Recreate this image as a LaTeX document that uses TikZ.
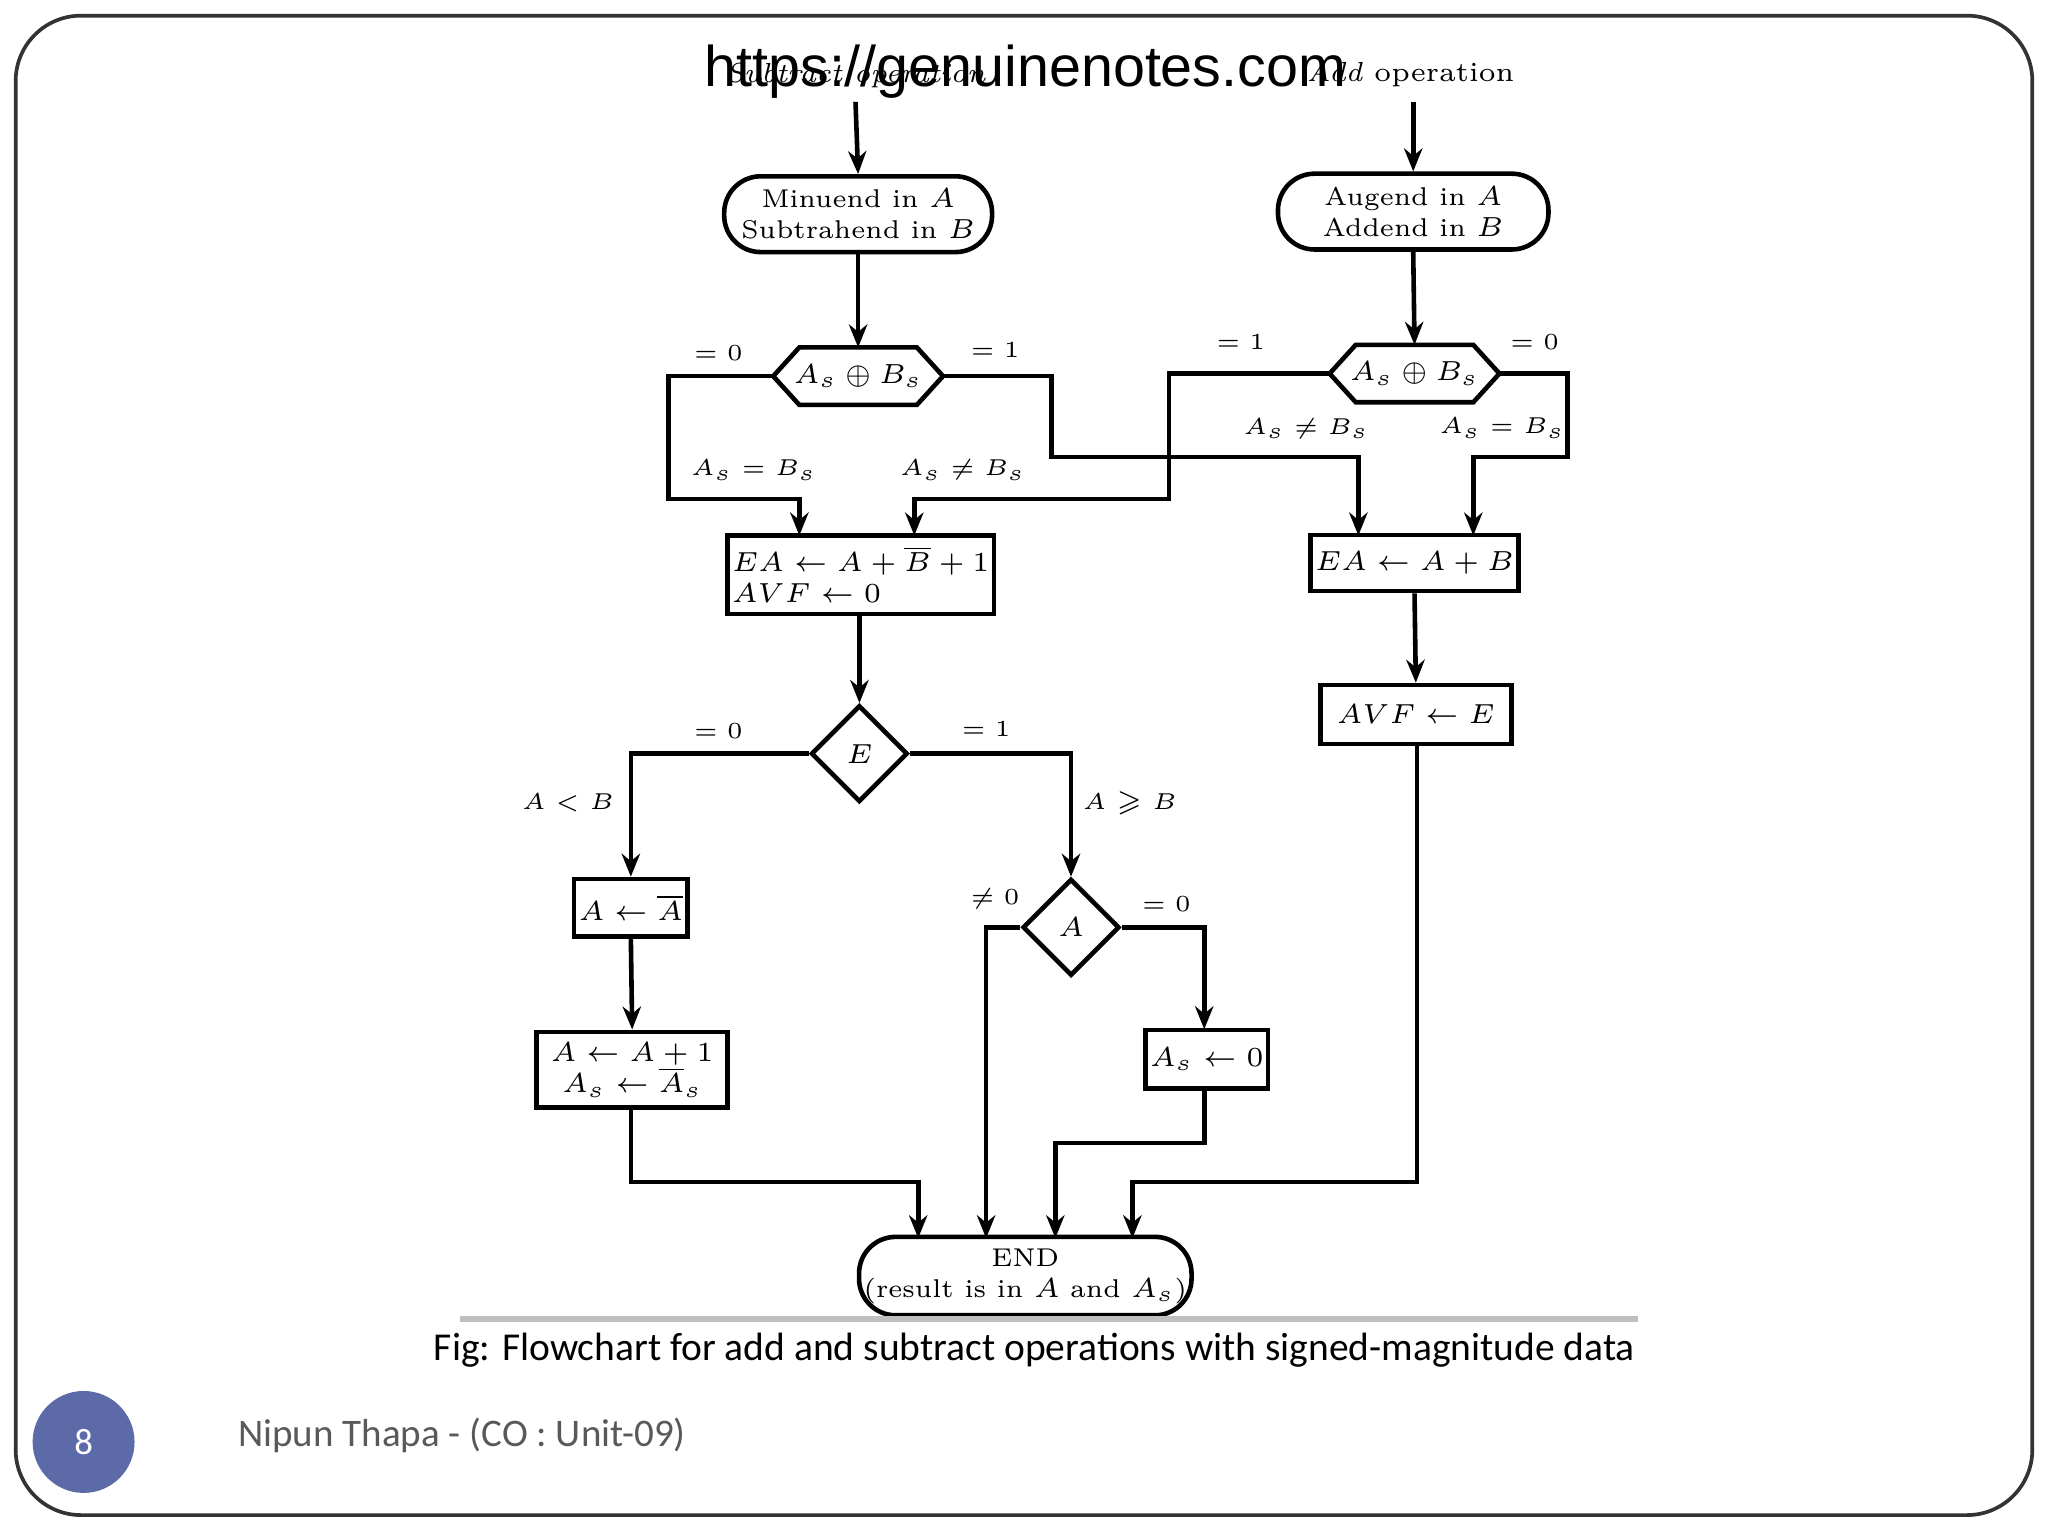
\documentclass[tikz,border=0pt]{standalone}
\usepackage{fontspec}
\usepackage{amssymb}
\newfontfamily\capfont{Carlito}
\newfontfamily\wmfont{Liberation Sans}
\usetikzlibrary{shapes.geometric,arrows.meta}
\begin{document}
\begin{tikzpicture}[x=0.01cm,y=-0.01cm,
  ln/.style={line width=1pt},
  ar/.style={line width=1pt,-{Stealth[length=5pt,width=4pt]}},
  box/.style={draw,line width=1pt,inner sep=1pt,font=\fontsize{5.6}{6.8}\selectfont,align=left},
  term/.style={draw,line width=1pt,rounded corners=0.28cm,inner sep=1pt,font=\fontsize{5.6}{6.8}\selectfont,align=center},
  dia/.style={draw,diamond,line width=1pt,minimum width=0.74cm,minimum height=0.74cm,inner sep=0pt,font=\fontsize{5.6}{7}\selectfont},
  lab/.style={font=\fontsize{5.4}{6}\selectfont,inner sep=1pt}]
\useasboundingbox (0,0) rectangle (1568,1176);
\draw[line width=0.8pt,rounded corners=0.5cm,black!80] (12,12) rectangle (1556,1160);
% headers
\node[lab,font=\itshape\fontsize{6}{7}\selectfont] (sub) at (655,58) {Subtract operation};
\node[lab,font=\fontsize{6}{7}\selectfont] (add) at (1080,57) {\textit{Add} operation};
\node[font=\wmfont\fontsize{12.5}{15}\selectfont] (wm) at (785,55) {https://genuinenotes.com};
% terminals
\node[term,minimum width=2.05cm,minimum height=0.58cm] (min) at (657,164) {Minuend in $A$\\Subtrahend in $B$};
\node[term,minimum width=2.07cm,minimum height=0.58cm] (aug) at (1082,162) {Augend in $A$\\Addend in $B$};
\coordinate (s0) at (655,78); \coordinate (a0) at (1082,78);
\draw[ar] (s0) -- (min.north);
\draw[ar] (a0) -- (aug.north);
% hexagons
\node[font=\fontsize{5.6}{7}\selectfont] (h1) at (657,288) {$A_s\oplus B_s$};
\node[font=\fontsize{5.6}{7}\selectfont] (h2) at (1083,286) {$A_s\oplus B_s$};
\draw[line width=1pt] (592,288)--(612,266)--(702,266)--(722,288)--(702,310)--(612,310)--cycle;
\draw[line width=1pt] (1018,286)--(1038,264)--(1128,264)--(1148,286)--(1128,308)--(1038,308)--cycle;
\coordinate (h1t) at (657,266); \coordinate (h2t) at (1083,264);
\draw[ar] (min.south) -- (h1t);
\draw[ar] (aug.south) -- (h2t);
% boxes
\node[box,minimum width=1.78cm,minimum height=0.6cm] (sb) at (659,440) {$EA\leftarrow A+\overline{B}+1$\\$AVF\leftarrow 0$};
\node[box,minimum width=1.45cm,minimum height=0.43cm] (ab) at (1083,431) {$EA\leftarrow A+B$};
\node[box,minimum width=1.46cm,minimum height=0.45cm] (av) at (1084,547) {$AVF\leftarrow E$};
\coordinate (l1) at (592,288); \coordinate (r1) at (722,288);
\coordinate (l2) at (1018,286); \coordinate (r2) at (1148,286);
\draw[ar] (l1) -- (512,288) -- (512,382) -- (612,382) -- (612,410);
\draw[ar] (r1) -- (805,288) -- (805,350) -- (1040,350) -- (1040,410);
\draw[ar] (l2) -- (895,286) -- (895,382) -- (700,382) -- (700,410);
\draw[ar] (r2) -- (1200,286) -- (1200,350) -- (1128,350) -- (1128,410);
\node[lab] at (550,270) {$=0$};
\node[lab] at (762,268) {$=1$};
\node[lab] at (950,262) {$=1$};
\node[lab] at (1175,262) {$=0$};
\node[lab] at (577,360) {$A_s=B_s$};
\node[lab] at (737,360) {$A_s\neq B_s$};
\node[lab] at (1000,328) {$A_s\neq B_s$};
\node[lab] at (1150,328) {$A_s=B_s$};
\draw[ar] (ab.south) -- (av.north);
% E diamond
\node[dia] (E) at (658,577) {$E$};
\draw[ar] (sb.south -| E.north) -- (E.north);
\node[box,minimum width=0.87cm,minimum height=0.44cm,align=center] (na) at (483,695) {$A\leftarrow\overline{A}$};
\node[box,minimum width=1.46cm,minimum height=0.58cm,align=center] (inc) at (484,819) {$A\leftarrow A+1$\\$A_s\leftarrow\overline{A}_s$};
\node[dia] (Ad) at (820,710) {$A$};
\node[box,minimum width=0.88cm,minimum height=0.45cm,align=center] (z) at (924,811) {$A_s\leftarrow 0$};
\draw[ar] (E.west) -- (483,577) -- (na.north);
\draw[ar] (E.east) -- (820,577) -- (Ad.north);
\node[lab] at (550,560) {$=0$};
\node[lab] at (755,558) {$=1$};
\node[lab] at (435,615) {$A<B$};
\node[lab] at (865,615) {$A\geqslant B$};
\node[lab] at (762,688) {$\neq 0$};
\node[lab] at (893,692) {$=0$};
\draw[ar] (na.south) -- (inc.north);
\draw[ar] (Ad.east) -- (922,710) -- (922,788);
% END
\node[term,minimum width=2.45cm,minimum height=0.6cm] (end) at (785,977) {END\\(result is in $A$ and $A_s$)};
\draw[ar] (Ad.west) -- (755,710) -- (755,948);
\draw[ar] (z.south -| 922,0) -- (922,875) -- (808,875) -- (808,948);
\draw[ar] (inc.south -| 483,0) -- (483,905) -- (703,905) -- (703,948);
\draw[ar] (av.south -| 1085,0) -- (1085,905) -- (867,905) -- (867,948);
% caption
\draw[black!25,line width=1.2pt] (352,1010) -- (1254,1010);
\node[font=\capfont\fontsize{8.6}{10}\selectfont] (cap) at (792,1034) {Fig: Flowchart for add and subtract operations with signed-magnitude data};
\node[circle,fill={rgb,255:red,92;green,106;blue,168},minimum size=0.78cm,inner sep=0pt,text=white,font=\capfont\fontsize{8}{9}\selectfont] (pg) at (64,1104) {8};
\node[anchor=west,text=black!65,font=\capfont\fontsize{8.5}{10}\selectfont] (ft) at (170,1099) {Nipun Thapa - (CO : Unit-09)};
\end{tikzpicture}
\end{document}
